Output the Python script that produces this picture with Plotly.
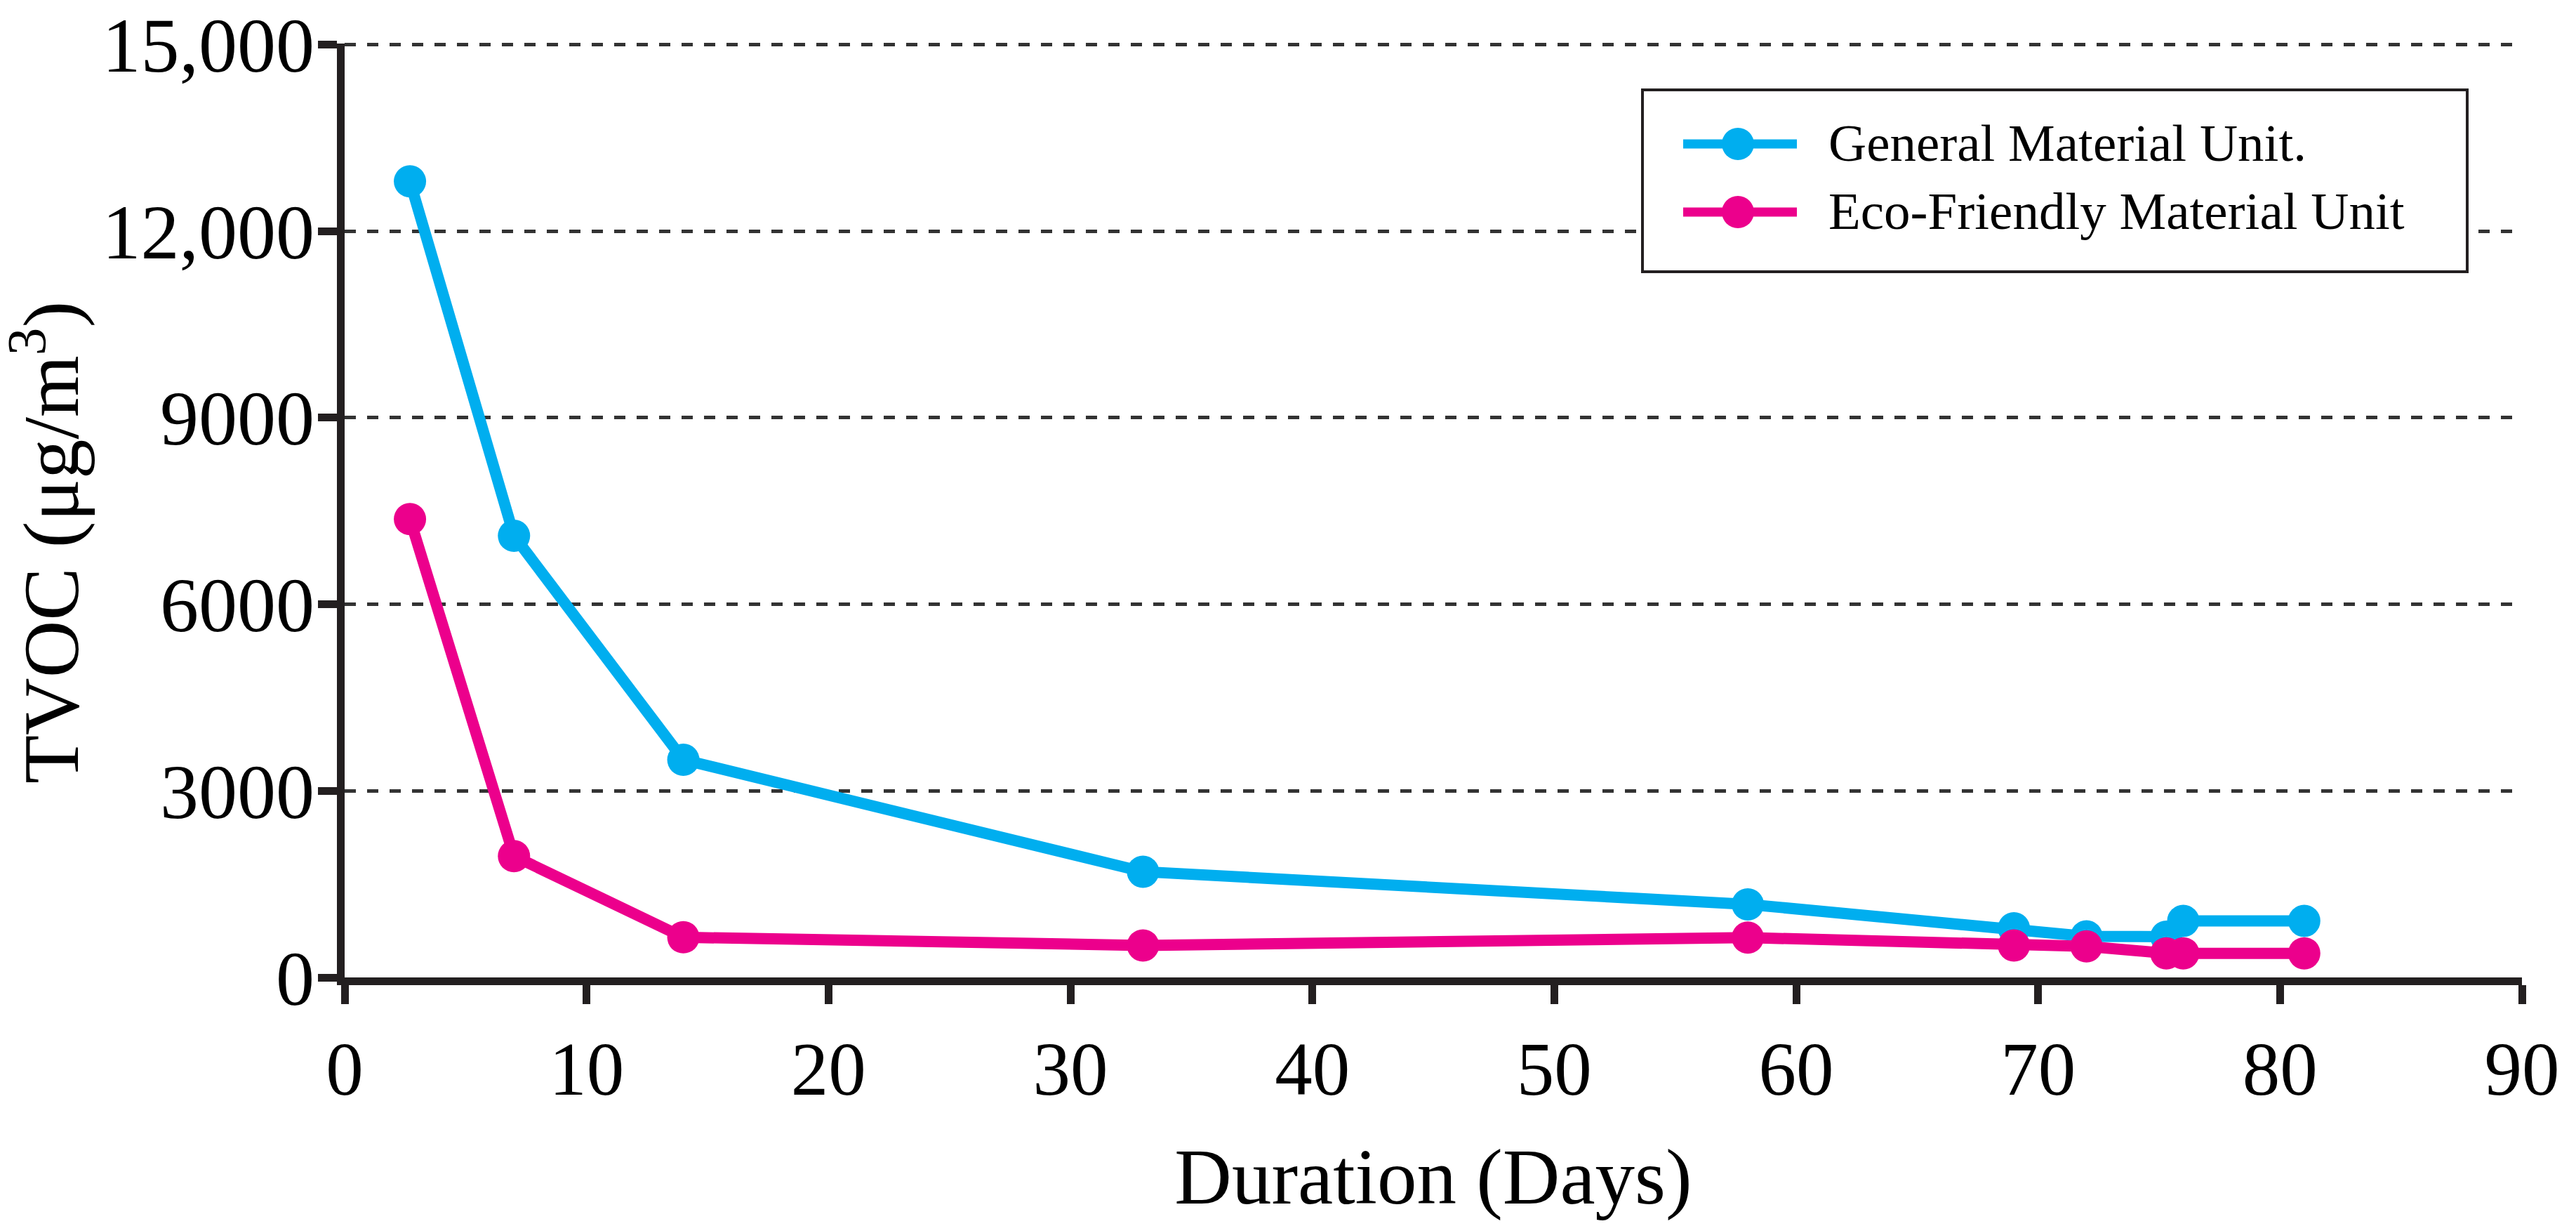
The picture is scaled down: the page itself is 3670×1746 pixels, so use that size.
import plotly.graph_objects as go

# ---- data ----
days = [2.7, 7, 14, 33, 58, 69, 72, 75.3, 76, 81]
general_tvoc = [12800, 7100, 3500, 1700, 1175, 790, 660, 655, 910, 910]
eco_tvoc = [7370, 1950, 645, 515, 640, 515, 500, 388, 388, 388]
series_names = ["General Material Unit.", "Eco-Friendly Material Unit"]
series_colors = ["#00AEEF", "#EC008C"]

x_ticks = [0, 10, 20, 30, 40, 50, 60, 70, 80, 90]
y_ticks = [0, 3000, 6000, 9000, 12000, 15000]
y_tick_text = ["0", "3000", "6000", "9000", "12,000", "15,000"]
x_title = "Duration (Days)"
y_title = "TVOC (μg/m<sup>3</sup>)"

FONT = "Liberation Serif, Times New Roman, serif"
AXIS_COLOR = "#231F20"

fig = go.Figure()
for name, vals, col in zip(series_names, [general_tvoc, eco_tvoc], series_colors):
    fig.add_trace(go.Scatter(
        x=days, y=vals, name=name, mode="lines+markers",
        line=dict(color=col, width=16),
        marker=dict(color=col, size=46),
        showlegend=False,
    ))

# page body has an 8px default margin; compensate so the plot lands where it should
OFF = 8
W, H = 3670 - OFF, 1746 - OFF
L, R, T, B = 491 - OFF, 77, 62 - OFF, 354

fig.update_layout(
    width=W, height=H,
    margin=dict(l=L, r=R, t=T, b=B, pad=0, autoexpand=False),
    paper_bgcolor="white", plot_bgcolor="white",
    font=dict(family=FONT, color="black"),
    showlegend=False,
)
fig.update_xaxes(
    range=[0, 90], tickvals=x_ticks, ticktext=[str(v) for v in x_ticks],
    automargin=False,
    showline=True, linecolor=AXIS_COLOR, linewidth=11,
    ticks="outside", ticklen=27, tickwidth=11, tickcolor=AXIS_COLOR,
    showgrid=False, zeroline=False,
    tickfont=dict(size=107, family=FONT, color="black"),
    ticklabelstandoff=1, ticklabeloverflow="allow",
    title=dict(text=x_title, font=dict(size=113, family=FONT, color="black"), standoff=58),
)
fig.update_yaxes(
    # tiny headroom above 15,000 so the top gridline is not clipped away at the edge
    range=[0, 15015], tickvals=y_ticks, ticktext=y_tick_text,
    automargin=False,
    showline=True, linecolor=AXIS_COLOR, linewidth=11,
    ticks="outside", ticklen=27, tickwidth=11, tickcolor=AXIS_COLOR,
    showgrid=True, gridcolor="#333333", gridwidth=4.5, griddash="16px,16px",
    zeroline=False,
    tickfont=dict(size=110, family=FONT, color="black"),
    ticklabelstandoff=-17, ticklabeloverflow="allow",
)

pw, ph = W - L - R, H - T - B
def px(xs):
    return (xs - OFF - L) / pw
def py(ys):
    return (H - B - (ys - OFF)) / ph

annotations = [dict(xref="paper", yref="paper", x=px(64), y=py(772),
                    xanchor="center", yanchor="middle", textangle=-90, showarrow=False,
                    text=y_title, font=dict(size=113, family=FONT, color="black"))]

# ---- custom legend (box, long line samples with markers, labels) ----
shapes = [dict(type="rect", xref="paper", yref="paper",
               x0=px(2340), x1=px(3515), y0=py(387), y1=py(128),
               line=dict(color=AXIS_COLOR, width=4), fillcolor="white", layer="above")]
rows_y = [205, 302]
for name, col, ry in zip(series_names, series_colors, rows_y):
    shapes.append(dict(type="line", xref="paper", yref="paper",
                       x0=px(2398), x1=px(2560), y0=py(ry), y1=py(ry),
                       line=dict(color=col, width=13), layer="above"))
    shapes.append(dict(type="circle", xref="paper", yref="paper",
                       xsizemode="pixel", ysizemode="pixel",
                       xanchor=px(2476), yanchor=py(ry),
                       x0=-23, x1=23, y0=-23, y1=23,
                       fillcolor=col, line=dict(color=col, width=0), layer="above"))
    annotations.append(dict(xref="paper", yref="paper", x=px(2603), y=py(ry - 2),
                            xanchor="left", yanchor="middle", showarrow=False,
                            text=name, font=dict(size=75, family=FONT, color="black")))
fig.update_layout(shapes=shapes, annotations=annotations)

fig.write_html("out.html")
